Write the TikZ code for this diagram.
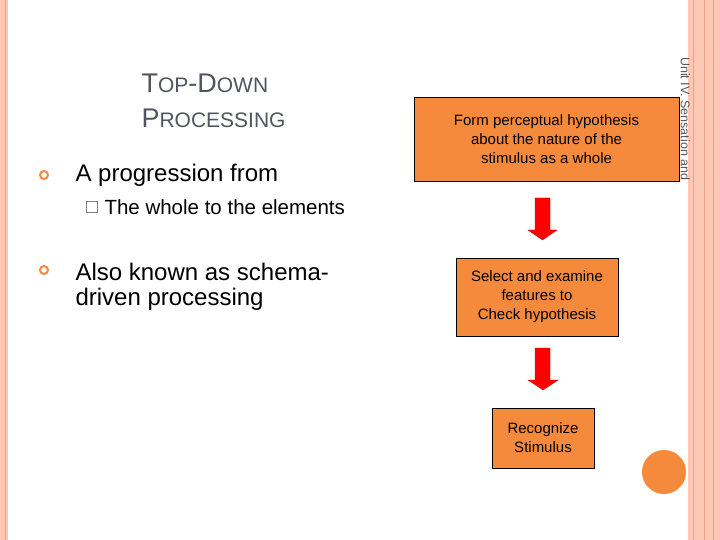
\documentclass[tikz,border=0pt]{standalone}
\usepackage{fontspec}
\setmainfont{Liberation Sans}
\begin{document}
\begin{tikzpicture}[x=1pt,y=-1pt,
  box/.style={draw=black,fill=boxc,align=center,font=\fontsize{15}{19}\selectfont,inner sep=0},
  arr/.style={fill=red,draw=red!80!black,line width=0.3pt}]
\definecolor{boxc}{RGB}{245,137,60}
\definecolor{band}{RGB}{250,200,180}
\definecolor{bandd}{RGB}{235,160,135}
\definecolor{titlec}{RGB}{80,85,95}
\useasboundingbox (0,0) rectangle (720,540);
\fill[white] (0,0) rectangle (720,540);
\fill[band] (0,0) rectangle (8,540);
\draw[bandd,line width=0.6pt] (5,0) -- (5,540);
\fill[band] (688,0) rectangle (720,540);
\draw[bandd,line width=0.6pt] (693,0)--(693,540) (704,0)--(704,540) (713,0)--(713,540);
\node[anchor=west,text=titlec,font=\fontsize{27}{30}\selectfont] (t1) at (138,83) {T{\fontsize{21}{24}\selectfont OP}-D{\fontsize{21}{24}\selectfont OWN}};
\node[anchor=west,text=titlec,font=\fontsize{27}{30}\selectfont] (t2) at (138,118) {P{\fontsize{21}{24}\selectfont ROCESSING}};
\node[circle,draw=boxc,line width=2pt,minimum size=8pt,inner sep=0] (b1) at (44,175) {};
\node[anchor=west,font=\fontsize{24}{28}\selectfont] (l1) at (72,175) {A progression from};
\node[draw=gray,minimum size=11pt,inner sep=0] (s1) at (92,207) {};
\node[anchor=west,font=\fontsize{20.5}{24}\selectfont] (l2) at (101,207) {The whole to the elements};
\node[circle,draw=boxc,line width=2pt,minimum size=8pt,inner sep=0] (b2) at (44,270) {};
\node[anchor=west,font=\fontsize{24}{28}\selectfont] (l3) at (72,272) {Also known as schema-};
\node[anchor=west,font=\fontsize{24}{28}\selectfont] (l4) at (72,299) {driven processing};
\node[box,minimum width=265pt,minimum height=84pt] (f1) at (546.5,139) {Form perceptual hypothesis\\about the nature of the\\stimulus as a whole};
\node[box,minimum width=162pt,minimum height=78pt] (f2) at (537,297) {Select and examine\\ features to\\Check hypothesis};
\node[box,minimum width=102pt,minimum height=60pt] (f3) at (543,438) {Recognize\\ Stimulus};
\draw[arr] (535,198)--(550,198)--(550,230)--(557,230)--(542.5,240)--(528,230)--(535,230)--cycle;
\draw[arr] (535,348)--(550,348)--(550,380)--(558,380)--(543,390)--(528,380)--(535,380)--cycle;
\fill[boxc] (664,472) circle (22);
\node[rotate=-90,anchor=north west,text=gray!70!black,font=\fontsize{12.5}{14}\selectfont,inner sep=0] (u) at (690,57) {Unit IV. Sensation and};
\end{tikzpicture}
\end{document}
